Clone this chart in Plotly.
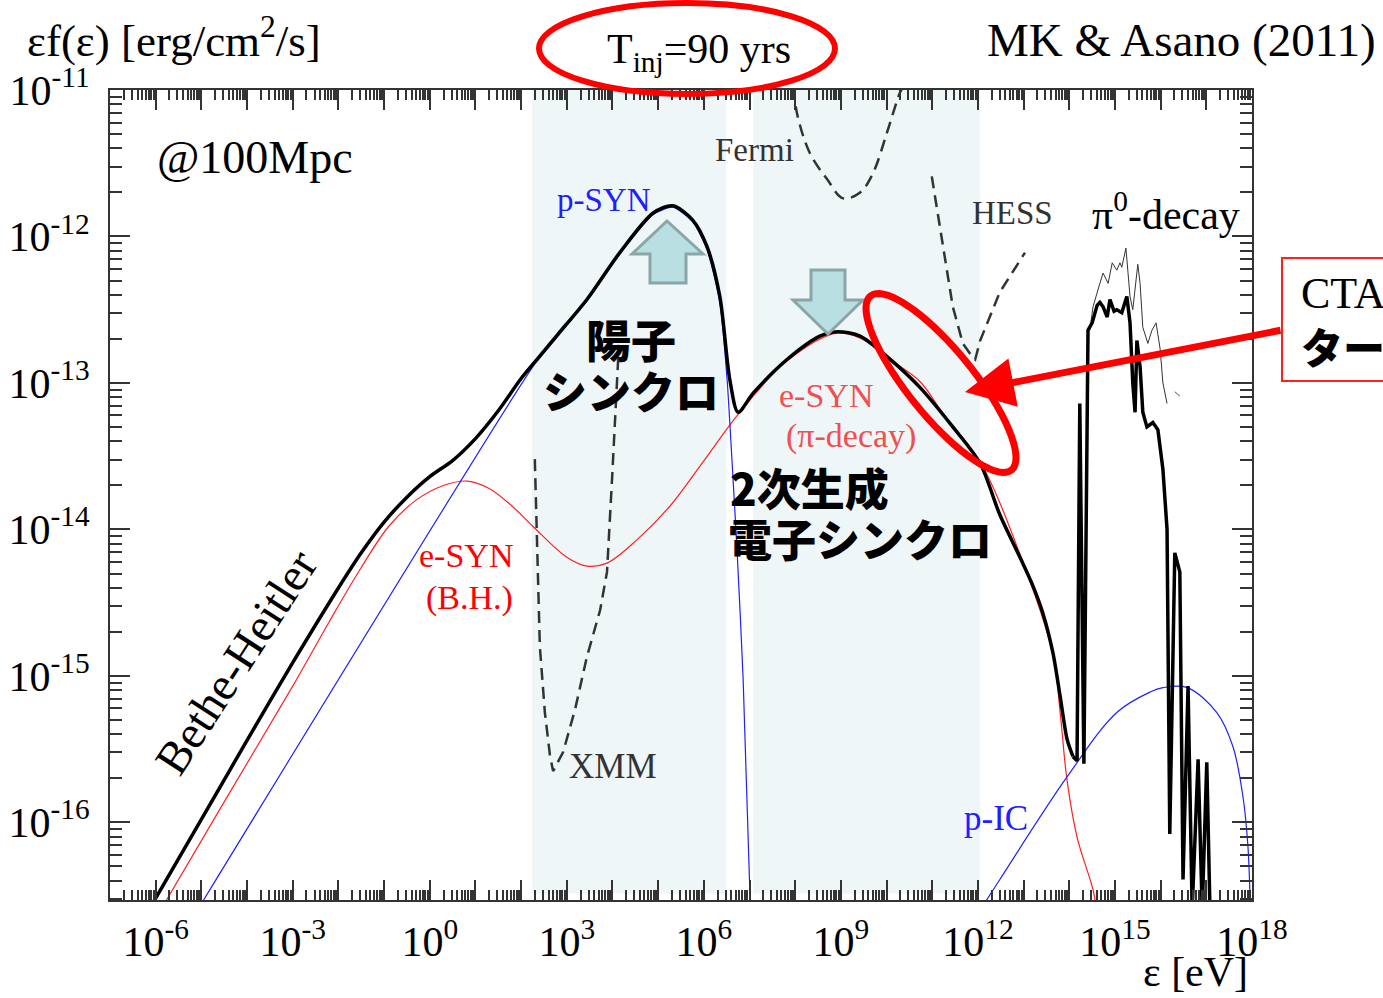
import numpy as np
import plotly.graph_objects as go

# ---------------- data (log10 of energy [eV], log10 of eps f(eps) [erg/cm2/s]) -------------
total_log_e = [-6.06, -5.00, -4.00, -3.00, -2.00, -1.50, -1.00, -0.50, 0.00, 0.50, 1.00, 1.50, 2.00,
               2.40, 2.80, 3.44, 4.16, 4.89, 5.32, 5.76, 6.07, 6.35, 6.57, 6.75, 7.08, 7.82, 8.54, 8.92, 9.42,
               10.01, 10.73, 11.45, 12.05, 12.48, 12.92, 13.21, 13.42, 13.64, 13.80, 13.95, 14.08, 14.17,
               14.23, 14.32, 14.41, 14.50, 14.61, 14.67, 14.74, 14.83, 14.89, 14.98, 15.04, 15.15, 15.26,
               15.33, 15.39, 15.44, 15.48, 15.55, 15.61, 15.70, 15.83, 15.94, 16.05, 16.14, 16.20, 16.31,
               16.42, 16.49, 16.60, 16.69, 16.82, 16.91, 17.01, 17.08]
total_log_f = [-16.55, -15.98, -15.44, -14.91, -14.40, -14.16, -13.95, -13.78, -13.64, -13.53, -13.38, -13.19,
               -12.97, -12.82, -12.67, -12.43, -12.11, -11.84, -11.79, -11.89, -12.07, -12.41, -12.98, -13.20,
               -13.07, -12.84, -12.68, -12.65, -12.68, -12.82, -13.03, -13.30, -13.55, -13.90, -14.19, -14.39,
               -14.57, -14.84, -15.14, -15.43, -15.55, -15.58, -13.14, -15.60, -12.64, -12.59, -12.47, -12.45,
               -12.48, -12.55, -12.43, -12.51, -12.50, -12.52, -12.41, -12.59, -13.00, -13.20, -12.71, -12.89,
               -13.20, -13.30, -13.27, -13.32, -13.59, -14.00, -16.08, -14.16, -14.29, -16.39, -15.07, -16.60,
               -15.57, -16.60, -15.59, -16.60]
SMOOTH_END = 41  # smooth part of total spectrum, the rest is the noisy pi0 part

thin_log_e = [14.45, 14.52, 14.67, 14.74, 14.85, 14.94, 15.04, 15.11, 15.15, 15.24, 15.33, 15.39, 15.50,
              15.55, 15.61, 15.72, 15.81, 15.90, 15.99, 16.05, 16.14]
thin_log_f = [-12.64, -12.48, -12.32, -12.25, -12.32, -12.18, -12.23, -12.18, -12.21, -12.08, -12.41, -12.50,
              -12.19, -12.32, -12.62, -12.73, -12.64, -12.59, -12.77, -13.00, -13.14]
thin_tail_log_e = [16.31, 16.42]
thin_tail_log_f = [-13.06, -13.09]

esyn_log_e = [-5.80, -4.50, -3.00, -2.20, -1.50, -0.90, -0.30, 0.30, 0.82, 1.30, 1.80, 2.26, 3.00, 3.44,
              3.88, 4.54, 5.26, 5.98, 6.79, 7.82, 8.92, 9.64, 10.08, 10.73, 11.24, 12.05, 12.92, 13.64,
              13.80, 13.95, 14.17, 14.52, 14.60]
esyn_log_f = [-16.55, -15.86, -15.07, -14.63, -14.26, -13.98, -13.80, -13.70, -13.67, -13.72, -13.84, -13.98,
              -14.19, -14.25, -14.23, -14.07, -13.84, -13.54, -13.20, -12.85, -12.66, -12.73, -12.84, -12.99,
              -13.21, -13.54, -14.17, -14.85, -15.25, -15.71, -16.10, -16.46, -16.60]

psyn_log_e = [-4.99, 2.30, 2.70, 3.44, 4.16, 4.89, 5.32, 5.76, 6.07, 6.35, 6.51, 6.64, 6.73, 6.86, 7.02]
psyn_log_f = [-16.55, -12.87, -12.72, -12.44, -12.12, -11.85, -11.80, -11.90, -12.09, -12.45, -12.98,
              -13.66, -14.16, -15.02, -16.60]

pic_log_e = [12.15, 12.48, 13.95, 15.04, 15.77, 16.05, 16.58, 17.23, 17.58, 17.80, 17.91, 17.96]
pic_log_f = [-16.55, -16.39, -15.69, -15.25, -15.11, -15.08, -15.08, -15.25, -15.48, -15.82, -16.16, -16.55]

xmm_log_e = [2.30, 2.41, 2.52, 2.63, 2.70, 2.92, 3.18, 3.44, 3.73, 3.88, 3.99, 4.10, 4.14]
xmm_log_f = [-13.52, -14.80, -15.25, -15.54, -15.65, -15.52, -15.23, -14.87, -14.55, -14.29, -13.66,
             -12.98, -12.74]

fermi_log_e = [7.97, 8.04, 8.32, 8.70, 9.05, 9.42, 9.70, 10.01, 10.29, 10.36]
fermi_log_f = [-10.98, -11.16, -11.43, -11.61, -11.74, -11.70, -11.57, -11.29, -11.02, -10.98]

hess_log_e = [10.99, 11.24, 11.45, 11.67, 11.87, 11.94, 12.05, 12.48, 13.03]
hess_log_f = [-11.59, -12.09, -12.48, -12.73, -12.82, -12.84, -12.71, -12.38, -12.11]

band_log_e = [(2.24, 6.49), (7.08, 12.05)]  # shaded instrument bands

x_decades = list(range(-7, 19))
y_decades = list(range(-17, -10))
x_labels = [f"10<sup>{k}</sup>" if k % 3 == 0 else " " for k in x_decades]
y_labels = [f"10<sup>{k}</sup>" for k in y_decades]

# ---------------- figure ----------------
W, H = 1383, 998
L, R, T, B = 110, 131, 90, 98
PW, PH = W - L - R, H - T - B


def pxx(x):
    return (x - L) / PW


def pyy(y):
    return (H - B - y) / PH


def tv(a):
    return [10 ** v for v in a]


SERIF = "Liberation Serif"
JP = "Noto Sans CJK JP"

fig = go.Figure()

for lo, hi in band_log_e:
    fig.add_shape(type="rect", xref="x", yref="paper", x0=10 ** lo, x1=10 ** hi, y0=0.008, y1=1,
                  fillcolor="#EEF6F8", line=dict(width=0), layer="below")

dash = "12px,7px"
fig.add_trace(go.Scatter(x=tv(xmm_log_e), y=tv(xmm_log_f), mode="lines", line=dict(color="#333", width=2.5, dash=dash)))
fig.add_trace(go.Scatter(x=tv(fermi_log_e), y=tv(fermi_log_f), mode="lines", line=dict(color="#333", width=2.5, dash=dash, shape="spline")))
fig.add_trace(go.Scatter(x=tv(hess_log_e), y=tv(hess_log_f), mode="lines", line=dict(color="#333", width=2.5, dash=dash)))

fig.add_trace(go.Scatter(x=tv(esyn_log_e), y=tv(esyn_log_f), mode="lines", line=dict(color="#ff2020", width=1.2, shape="spline")))
fig.add_trace(go.Scatter(x=tv(psyn_log_e), y=tv(psyn_log_f), mode="lines", line=dict(color="#2020ff", width=1.2, shape="spline", smoothing=0.6)))
fig.add_trace(go.Scatter(x=tv(pic_log_e), y=tv(pic_log_f), mode="lines", line=dict(color="#2020ff", width=1.2, shape="spline")))

fig.add_trace(go.Scatter(x=tv(thin_log_e), y=tv(thin_log_f), mode="lines", line=dict(color="#333", width=1)))
fig.add_trace(go.Scatter(x=tv(thin_tail_log_e), y=tv(thin_tail_log_f), mode="lines", line=dict(color="#555", width=1)))

fig.add_trace(go.Scatter(x=tv(total_log_e[:SMOOTH_END]), y=tv(total_log_f[:SMOOTH_END]), mode="lines",
                         line=dict(color="black", width=3.5, shape="spline", smoothing=0.8)))
fig.add_trace(go.Scatter(x=tv(total_log_e[SMOOTH_END - 1:]), y=tv(total_log_f[SMOOTH_END - 1:]), mode="lines",
                         line=dict(color="black", width=3.5)))

# ---------------- decorations (paper coordinates) ----------------
def poly_path(pts):
    s = "M " + " L ".join(f"{pxx(a):.5f},{pyy(b):.5f}" for a, b in pts) + " Z"
    return s


up_arrow = [(667, 221), (703, 254), (686, 254), (686, 283), (650, 283), (650, 254), (632, 254)]
down_arrow = [(811, 270), (845, 270), (845, 300), (863, 300), (828, 334), (793, 300), (811, 300)]
for pts in (up_arrow, down_arrow):
    fig.add_shape(type="path", xref="paper", yref="paper", path=poly_path(pts),
                  fillcolor="#B9DFE3", line=dict(color="#8AA6A6", width=3))

# tilted red ellipse
t = np.linspace(0, 2 * np.pi, 73)
cx, cy, a, b, th = 941, 383, 112, 33, np.deg2rad(51)
ex = cx + a * np.cos(t) * np.cos(th) - b * np.sin(t) * np.sin(th)
ey = cy + a * np.cos(t) * np.sin(th) + b * np.sin(t) * np.cos(th)
fig.add_shape(type="path", xref="paper", yref="paper", path=poly_path(list(zip(ex, ey))),
              line=dict(color="#ff0000", width=7))

# ellipse around T_inj
fig.add_shape(type="circle", xref="paper", yref="paper", x0=pxx(539), x1=pxx(835), y0=pyy(94), y1=pyy(3),
              line=dict(color="#ff0000", width=6))

# CTA box
fig.add_shape(type="rect", xref="paper", yref="paper", x0=pxx(1282), x1=pxx(1430), y0=pyy(381), y1=pyy(258),
              line=dict(color="#ff2020", width=2), fillcolor="white")

annots = []


def txt(text, x, y, size, color="black", family=SERIF, xanchor="center", angle=0, weight="normal"):
    annots.append(dict(text=text, x=pxx(x), y=pyy(y), xref="paper", yref="paper", showarrow=False,
                       xanchor=xanchor, yanchor="middle", textangle=angle,
                       font=dict(family=family, size=size, color=color, weight=weight)))


txt("εf(ε) [erg/cm<sup>2</sup>/s]", 25, 38, 45, xanchor="left")
txt("T<sub>inj</sub>=90 yrs", 699, 52, 42)
txt("MK &amp; Asano (2011)", 1378, 40, 47, xanchor="right")
txt("@100Mpc", 155, 158, 46, xanchor="left")
txt("p-SYN", 604, 200, 33, color="#2020ff")
txt("Fermi", 754, 150, 33, color="#333")
txt("HESS", 1012, 213, 33, color="#333")
txt("π<sup>0</sup>-decay", 1166, 212, 42)
txt("e-SYN", 826, 395, 34, color="#f05050")
txt("(π-decay)", 851, 436, 34, color="#f05050")
txt("e-SYN", 466, 555, 34, color="#ff0000")
txt("(B.H.)", 470, 598, 34, color="#ff0000")
txt("Bethe-Heitler", 236, 662, 47, angle=-57)
txt("XMM", 613, 766, 35, color="#333")
txt("p-IC", 996, 818, 35, color="#2020ff")
txt("ε [eV]", 1195, 972, 42)
txt("陽子", 631, 338, 45, family=JP, weight=900)
txt("シンクロ", 631, 390, 44, family=JP, weight=900)
txt("2次生成", 728, 487, 44, family=JP, weight=900, xanchor="left")
txt("電子シンクロ", 726, 538, 44, family=JP, weight=900, xanchor="left")
txt("CTA", 1299, 293, 44, xanchor="left")
txt("ターゲット", 1299, 345, 42, family=JP, weight=900, xanchor="left")

annots.append(dict(text="", x=pxx(965), y=pyy(392), xref="paper", yref="paper", showarrow=True,
                   ax=1282 - 965, ay=330 - 392, arrowhead=2, arrowsize=1.4, arrowwidth=7,
                   arrowcolor="#ff0000", standoff=0))

minor_x = [k * 10.0 ** d for d in x_decades for k in range(2, 10)]
minor_y = [k * 10.0 ** d for d in y_decades for k in range(2, 10)]

axis_common = dict(type="log", showgrid=False, zeroline=False, showline=True, linecolor="#333", linewidth=2,
                   mirror="allticks", ticks="inside", ticklen=20, tickwidth=2, tickcolor="#333",
                   tickmode="array", tickfont=dict(family=SERIF, size=42, color="black"))

fig.update_layout(
    width=W, height=H, margin=dict(l=L, r=R, t=T, b=B, autoexpand=False),
    paper_bgcolor="white", plot_bgcolor="white", showlegend=False,
    xaxis=dict(axis_common, range=[-7, 18], tickvals=[10.0 ** k for k in x_decades], ticktext=x_labels,
               ticklabelstandoff=4,
               minor=dict(tickmode="array", tickvals=minor_x, ticks="inside", ticklen=10, tickwidth=1.5,
                          tickcolor="#333", showgrid=False)),
    yaxis=dict(axis_common, range=[-16.53, -11], tickvals=[10.0 ** k for k in y_decades], ticktext=y_labels,
               ticklabelstandoff=10,
               minor=dict(tickmode="array", tickvals=minor_y, ticks="inside", ticklen=12, tickwidth=1.5,
                          tickcolor="#333", showgrid=False)),
    annotations=annots,
)

fig.write_html("out.html")
